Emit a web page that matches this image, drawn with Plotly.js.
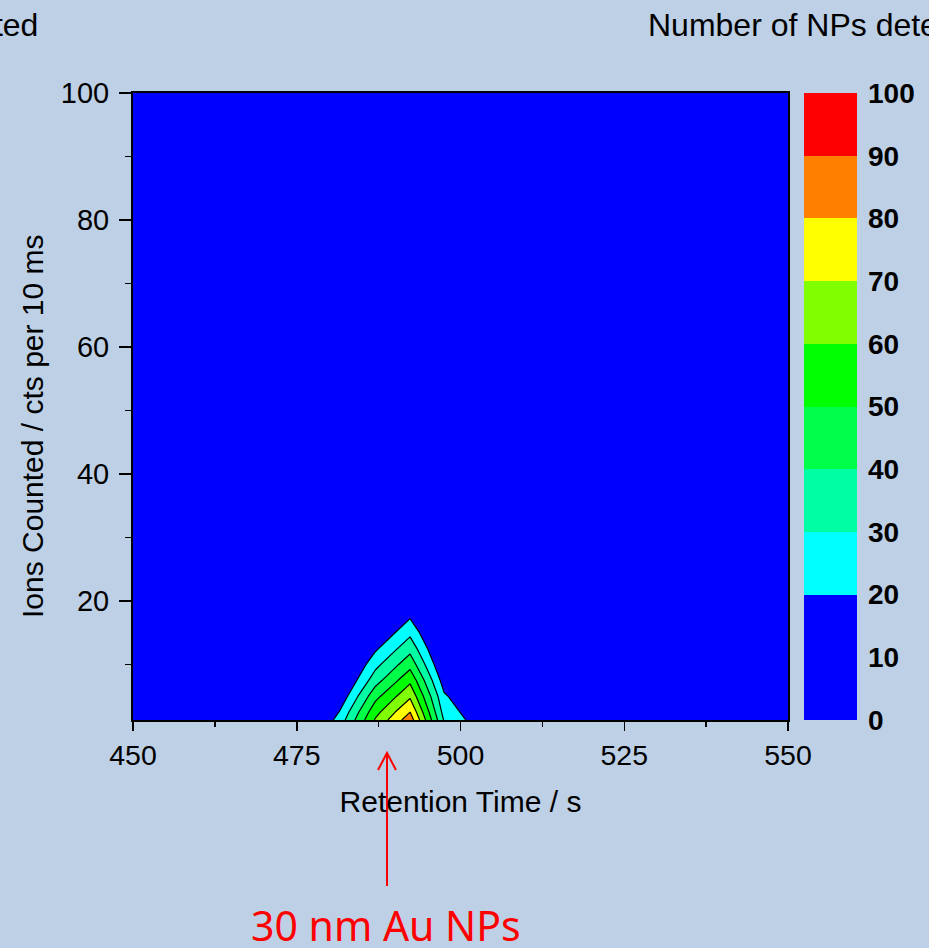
<!DOCTYPE html>
<html>
<head>
<meta charset="utf-8">
<script src="https://cdn.plot.ly/plotly-3.0.1.min.js"></script>
<style>html,body{margin:0;padding:0;background:#BDD0E5;}#chart{width:929px;height:948px;}</style>
</head>
<body>
<div id="chart"></div>
<script>
// ---- data ----
// Retention time grid (s)
const retentionTime = [450, 476, 481.5, 487, 492.3, 497.5, 502.5, 508, 550];
// Ions counted grid (cts per 10 ms)
const ionsCounted = [1.25, 2.5, 5, 7.5, 10, 12.5, 15, 17.5, 20, 100];
// Number of NPs detected, rows = ionsCounted, columns = retentionTime
const npCount = [
  [0, 0, 24,   61,   86,   29,   15.4, 0, 0],
  [0, 0, 20.3, 56.6, 80,   26,   13.5, 0, 0],
  [0, 0, 12,   46.8, 68.3, 21.5, 9,    0, 0],
  [0, 0, 5,    35.7, 57.6, 15,   4,    0, 0],
  [0, 0, 0,    26.9, 46.4, 9,    0,    0, 0],
  [0, 0, 0,    18.3, 36.7, 4,    0,    0, 0],
  [0, 0, 0,    10,   27.6, 0,    0,    0, 0],
  [0, 0, 0,    4,    19,   0,    0,    0, 0],
  [0, 0, 0,    0,    10,   0,    0,    0, 0],
  [0, 0, 0,    0,    0,    0,    0,    0, 0]
];
// colour bands (legend)
const bandEdges  = [0, 20, 30, 40, 50, 60, 70, 80, 90, 100];
const bandColors = ['#0000FF', '#00FFFF', '#00FFA4', '#00FF48', '#00FF00', '#80FF00', '#FFFF00', '#FF8000', '#FF0000'];
const colorbarTicks = [0, 10, 20, 30, 40, 50, 60, 70, 80, 90, 100];
const xTicks = [450, 475, 500, 525, 550];
const yTicks = [20, 40, 60, 80, 100];

// ---- contour colorscale (Plotly maps fill levels: v = (s*nc - 0.5)*size + start) ----
const cStart = 20, cEnd = 100, cSize = 10;
const nc = Math.floor((cEnd - cStart) / cSize) + 1;
const sOf = v => ((v - cStart) / cSize + 0.5) / nc;
const contourScale = [[0, bandColors[0]]];
for (let i = 1; i < bandEdges.length; i++) {
  const lo = bandEdges[i];
  contourScale.push([Math.min(1, sOf(lo)), bandColors[i - 1]]);
  contourScale.push([Math.min(1, sOf(lo)), bandColors[Math.min(i, bandColors.length - 1)]]);
}
contourScale.push([1, bandColors[bandColors.length - 1]]);

// ---- colorbar scale (heatmap, zmin 0 zmax 100) ----
const barScale = [];
for (let i = 0; i < bandColors.length; i++) {
  barScale.push([bandEdges[i] / 100, bandColors[i]]);
  barScale.push([bandEdges[i + 1] / 100, bandColors[i]]);
}
const barZ = [];
for (let i = 0; i < bandColors.length; i++) barZ.push([(bandEdges[i] + bandEdges[i + 1]) / 2]);

const FONT = 'Liberation Sans, Arial, sans-serif';

const traces = [
  {
    type: 'contour',
    x: retentionTime, y: ionsCounted, z: npCount,
    autocontour: false,
    contours: {start: cStart, end: cEnd, size: cSize, coloring: 'fill', showlines: true},
    line: {color: '#000000', width: 1.2, smoothing: 0},
    colorscale: contourScale,
    showscale: false,
    hoverinfo: 'x+y+z'
  },
  {
    type: 'heatmap',
    x: [0, 1], y: bandEdges, z: barZ,
    zmin: 0, zmax: 100,
    colorscale: barScale,
    showscale: false,
    xaxis: 'x2', yaxis: 'y2'
  }
];

const W = 929, H = 948, L = 133, R = 72, T = 93, B = 228;
const pw = W - L - R, ph = H - T - B;
const px = v => (v - L) / pw;
const py = v => (H - B - v) / ph;

const layout = {
  width: W, height: H,
  margin: {l: L, r: R, t: T, b: B, pad: 0},
  paper_bgcolor: '#BDD0E5',
  plot_bgcolor: '#0000FF',
  showlegend: false,
  font: {family: FONT, color: '#000000'},
  xaxis: {
    domain: [0, (788 - L) / pw],
    range: [450, 550],
    tickvals: xTicks,
    ticks: 'outside', ticklen: 9, tickwidth: 1.5, tickcolor: '#000',
    minor: {dtick: 12.5, tick0: 450, ticks: 'outside', ticklen: 5, tickwidth: 1.5, tickcolor: '#000'},
    showline: true, linecolor: '#000', linewidth: 2, mirror: true,
    showgrid: false, zeroline: false,
    tickfont: {size: 28.5, family: FONT, color: '#000'},
    ticklabelstandoff: 0,
    title: {text: 'Retention Time / s', font: {size: 30, family: FONT, color: '#000'}, standoff: 21}
  },
  yaxis: {
    domain: [0, 1],
    range: [1.25, 100],
    tickvals: yTicks,
    ticks: 'outside', ticklen: 12, tickwidth: 1.5, tickcolor: '#000',
    minor: {dtick: 10, tick0: 0, ticks: 'outside', ticklen: 6, tickwidth: 1.5, tickcolor: '#000'},
    showline: true, linecolor: '#000', linewidth: 2, mirror: true,
    showgrid: false, zeroline: false,
    tickfont: {size: 29, family: FONT, color: '#000'},
    ticklabelstandoff: 4
  },
  xaxis2: {
    domain: [(804 - L) / pw, 1],
    range: [0, 1], anchor: 'y2',
    visible: false, showgrid: false, zeroline: false
  },
  yaxis2: {
    domain: [0, 1],
    range: [0, 100], anchor: 'x2', side: 'right',
    tickvals: colorbarTicks,
    ticktext: colorbarTicks.map(t => '<b>' + t + '</b>'),
    ticks: '', showline: false, showgrid: false, zeroline: false,
    tickfont: {size: 28, family: FONT, color: '#000'},
    ticklabelstandoff: 10
  },
  annotations: [
    {text: 'Number of NPs detected', xref: 'paper', yref: 'paper', x: px(646), y: py(25),
     xanchor: 'left', yanchor: 'middle', showarrow: false, font: {size: 32, family: FONT, color: '#000'}},
    {text: 'Number of NPs detected', xref: 'paper', yref: 'paper', x: px(40), y: py(25),
     xanchor: 'right', yanchor: 'middle', showarrow: false, font: {size: 32, family: FONT, color: '#000'}},
    {text: 'Ions Counted / cts per 10 ms', xref: 'paper', yref: 'paper', x: px(32), y: py(426),
     xanchor: 'center', yanchor: 'middle', textangle: -90, showarrow: false,
     font: {size: 30, family: FONT, color: '#000'}},
    {text: '30 nm Au NPs', xref: 'paper', yref: 'paper', x: px(386), y: py(925),
     xanchor: 'center', yanchor: 'middle', showarrow: false,
     font: {size: 41, family: 'Noto Sans, Open Sans, sans-serif', color: '#FF0000'}}
  ],
  shapes: [
    {type: 'line', xref: 'paper', yref: 'paper', x0: px(387), x1: px(387), y0: py(886), y1: py(753),
     line: {color: '#FF0000', width: 2}},
    {type: 'path', xref: 'paper', yref: 'paper',
     path: 'M ' + px(378) + ' ' + py(770) + ' L ' + px(387) + ' ' + py(753) + ' L ' + px(396) + ' ' + py(770),
     line: {color: '#FF0000', width: 2}}
  ]
};

Plotly.newPlot('chart', traces, layout, {displayModeBar: false, staticPlot: true});
</script>
</body>
</html>
